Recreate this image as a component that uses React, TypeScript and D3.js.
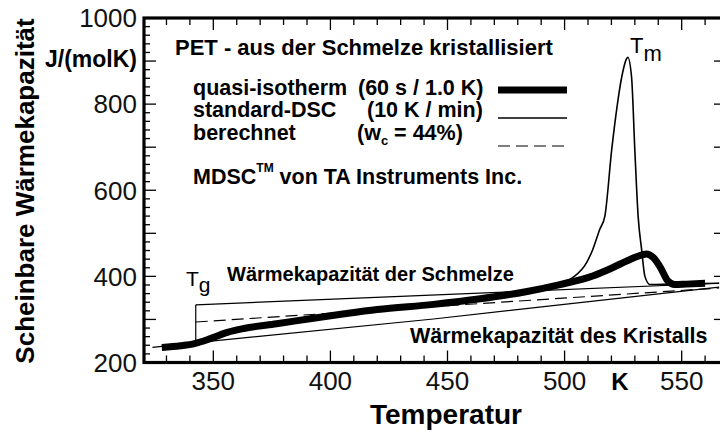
import * as d3 from 'd3'

// quasi-isotherme Messung (dicke Kurve)
const quasiT = [328, 336, 342, 349, 356, 363, 377, 392, 406, 420, 444, 464, 484, 498, 512, 520, 527, 531, 535, 538, 541.5, 544, 547, 552, 560]
const quasiCp = [235, 239, 244, 256, 270, 279, 290, 302, 313, 323, 335, 348, 365, 381, 401, 419, 437, 446, 452, 443, 415, 390, 381, 382, 384]

// standard-DSC (dünne Kurve)
const dscT = [470, 485, 496.6, 503.7, 509.4, 512, 515, 517.2, 520.1, 522.2, 524.4, 526.5, 527, 528.6, 530, 531.4, 532.9, 534.3, 536.5, 545, 566]
const dscCp = [353, 364, 383, 398, 432, 462, 509, 540, 693, 786, 863, 906, 909, 863, 693, 540, 462, 400, 381, 382, 384]

// Basislinien
const meltT = [342.5, 566]
const meltCp = [334, 384]
const solidT = [324, 346, 444, 566]
const solidCp = [235, 248, 301, 375]
const calcT = [342.5, 566]
const calcCp = [294, 373]
const Tg = 342.5
const tgCp = [334, 243]

const tempTicks = [350, 400, 450, 500, 550]
const cpTicks = [200, 400, 600, 800, 1000]

const font = 'Liberation Sans, Arial, Helvetica, sans-serif'

export default function App() {
  const x = d3.scaleLinear().domain([320.4, 568.5]).range([144, 725])
  const y = d3.scaleLinear().domain([200, 1000]).range([362.5, 18])

  const line = d3.line<[number, number]>().x(d => x(d[0])).y(d => y(d[1]))
  const smooth = d3.line<[number, number]>().x(d => x(d[0])).y(d => y(d[1])).curve(d3.curveMonotoneX)
  const zip = (a: number[], b: number[]) => a.map((v, i) => [v, b[i]] as [number, number])

  const xMinor = d3.range(330, 561, 10)
  const yMinor = d3.range(220, 981, 20)
  const [x0, x1] = x.range()
  const [y0, y1] = y.range()

  return (
    <svg width={720} height={432} style={{ display: 'block', background: '#fff' }} fontFamily={font}>
      <style>{'body{margin:0}'}</style>

      {/* ticks */}
      {xMinor.map(t => {
        const len = t % 50 === 0 ? 12 : 7
        return (
          <g key={'xt' + t} stroke="#000" strokeWidth={1.3}>
            <line x1={x(t)} x2={x(t)} y1={y0} y2={y0 - len} />
            <line x1={x(t)} x2={x(t)} y1={y1} y2={y1 + len} />
          </g>
        )
      })}
      {yMinor.map(c => {
        const major = c % 100 === 0
        return (
          <g key={'yt' + c} stroke="#000" strokeWidth={1.3}>
            <line x1={x0} x2={x0 + (major ? 12 : 6)} y1={y(c)} y2={y(c)} />
            {major && <line x1={x1} x2={x1 - 11} y1={y(c)} y2={y(c)} />}
          </g>
        )
      })}

      {/* frame */}
      <rect x={x0} y={y1} width={x1 - x0} height={y0 - y1} fill="none" stroke="#000" strokeWidth={3.2} />

      {/* tick labels */}
      {tempTicks.map(t => (
        <text key={'xl' + t} x={x(t)} y={390} textAnchor="middle" fontSize={26} fill="#111">{t}</text>
      ))}
      {cpTicks.map(c => (
        <text key={'yl' + c} x={137} y={y(c)} dy="0.36em" textAnchor="end" fontSize={26} fill="#111">{c}</text>
      ))}

      {/* baselines */}
      <g fill="none" stroke="#000" strokeWidth={1.2}>
        <path d={line(zip(meltT, meltCp)) ?? ''} />
        <path d={line(zip(solidT, solidCp)) ?? ''} />
        <path d={line(zip(calcT, calcCp)) ?? ''} strokeDasharray="12,6" />
        <path d={line(tgCp.map(c => [Tg, c] as [number, number])) ?? ''} />
      </g>

      {/* curves */}
      <path d={smooth(zip(dscT, dscCp)) ?? ''} fill="none" stroke="#000" strokeWidth={1.6} strokeLinejoin="round" />
      <path d={smooth(zip(quasiT, quasiCp)) ?? ''} fill="none" stroke="#000" strokeWidth={7} strokeLinejoin="round" />

      {/* axis titles */}
      <text transform="translate(34,191) rotate(-90)" textAnchor="middle" fontSize={26} fontWeight="bold">Scheinbare Wärmekapazität</text>
      <text x={137} y={67} textAnchor="end" fontSize={23} fontWeight="bold">J/(molK)</text>
      <text x={446} y={424} textAnchor="middle" fontSize={28} fontWeight="bold">Temperatur</text>
      <text x={620} y={390} textAnchor="middle" fontSize={24} fontWeight="bold">K</text>

      {/* legend */}
      <g fontWeight="bold" fontSize={21.5}>
        <text x={175} y={55} fontSize={22}>PET - aus der Schmelze kristallisiert</text>
        <text x={193} y={95}>quasi-isotherm</text>
        <text x={358} y={95}>(60 s / 1.0 K)</text>
        <text x={193} y={117}>standard-DSC</text>
        <text x={367} y={117}>(10 K / min)</text>
        <text x={193} y={140}>berechnet</text>
        <text x={357} y={140}>(w<tspan fontSize={13} dy={5}>c</tspan><tspan dy={-5}> = 44%)</tspan></text>
        <text x={193} y={184}>MDSC<tspan fontSize={12} dy={-12}>TM</tspan><tspan dy={12}> von TA Instruments Inc.</tspan></text>
      </g>
      <line x1={498} x2={567} y1={90} y2={90} stroke="#000" strokeWidth={7} />
      <line x1={498} x2={567} y1={118} y2={118} stroke="#000" strokeWidth={1.6} />
      <line x1={498} x2={567} y1={146} y2={146} stroke="#000" strokeWidth={1.2} strokeDasharray="12,6" />

      {/* annotations */}
      <text x={630} y={53} fontSize={22}>T<tspan dy={8}>m</tspan></text>
      <text x={186} y={286} fontSize={21}>T<tspan dy={6}>g</tspan></text>
      <text x={227} y={281} fontSize={20} fontWeight="bold">Wärmekapazität der Schmelze</text>
      <text x={410} y={343} fontSize={21.5} fontWeight="bold">Wärmekapazität des Kristalls</text>
    </svg>
  )
}
